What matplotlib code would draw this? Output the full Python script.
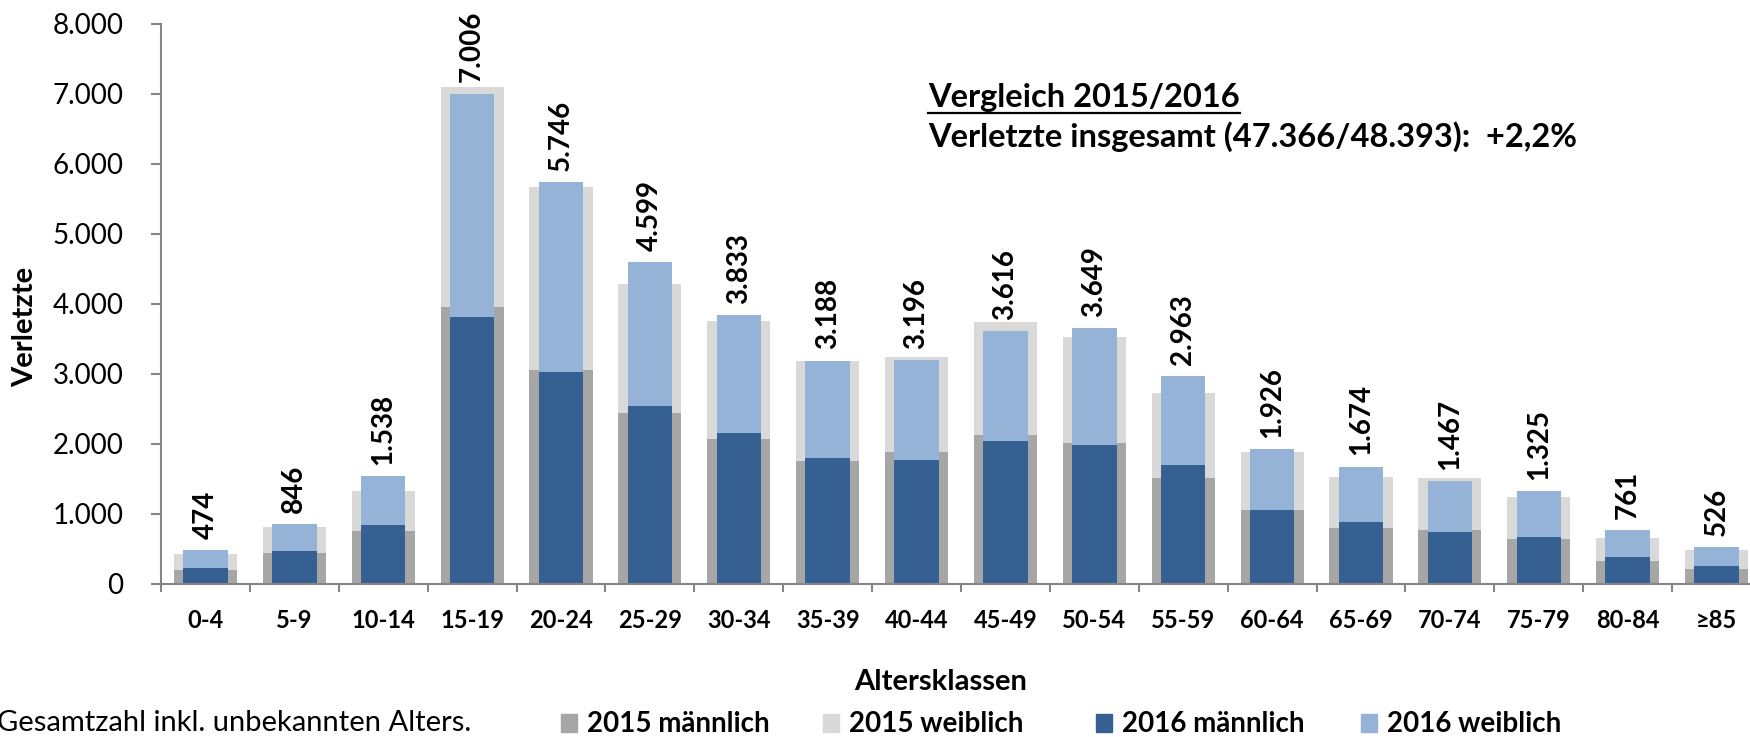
import matplotlib.pyplot as plt
import numpy as np
from matplotlib.patches import Rectangle

plt.rcParams['font.family'] = ['Lato', 'DejaVu Sans']

# Altersklassen
klassen = ["0-4", "5-9", "10-14", "15-19", "20-24", "25-29", "30-34", "35-39", "40-44",
           "45-49", "50-54", "55-59", "60-64", "65-69", "70-74", "75-79", "80-84", "≥85"]

m2015 = np.array([191, 443, 755, 3953, 3051, 2433, 2067, 1750, 1875,
                  2121, 2007, 1509, 1055, 793, 765, 634, 323, 208])
ges2015 = np.array([421, 815, 1329, 7097, 5670, 4281, 3756, 3182, 3242,
                    3745, 3532, 2723, 1881, 1520, 1509, 1236, 651, 476])
w2015 = ges2015 - m2015

# 2016
m2016 = np.array([230, 465, 836, 3811, 3024, 2542, 2160, 1799, 1766,
                  2045, 1979, 1695, 1050, 880, 744, 667, 377, 246])
ges2016 = np.array([474, 846, 1538, 7006, 5746, 4599, 3833, 3188, 3196,
                    3616, 3649, 2963, 1926, 1674, 1467, 1325, 761, 526])
w2016 = ges2016 - m2016

serien = ["2015 männlich", "2015 weiblich", "2016 männlich", "2016 weiblich"]
farben = ["#A6A6A6", "#D9D9D9", "#376092", "#95B3D7"]

def punkt(v):
    return f"{v:,}".replace(",", ".")

W, H = 1750, 737
fig = plt.figure(figsize=(W / 100, H / 100), dpi=100)
ax = fig.add_axes([161 / W, 153.4 / H, 1600 / W, 559.6 / H])

x = np.arange(len(klassen))
ax.bar(x, m2015, width=0.71, color=farben[0])
ax.bar(x, w2015, width=0.71, bottom=m2015, color=farben[1])
ax.bar(x, m2016, width=0.5, color=farben[2])
ax.bar(x, w2016, width=0.5, bottom=m2016, color=farben[3])

# Summen 2016 über den Balken
for xi, v in zip(x, ges2016):
    ax.annotate(punkt(v), (xi, v), xytext=(0, 8), textcoords="offset points",
                rotation=90, ha="center", va="bottom", fontsize=20, fontweight="bold")

ax.set_xlim(-0.5, len(klassen) - 0.5)
ax.set_ylim(0, 8000)
ax.set_yticks(np.arange(0, 8001, 1000))
ax.set_yticklabels([punkt(v) for v in range(0, 8001, 1000)], fontsize=20)
ax.set_xticks(x)
ax.set_xticklabels(klassen, fontsize=17, fontweight="bold")
ax.set_xticks(np.arange(-0.5, len(klassen)), minor=True)
ax.tick_params(axis="x", which="major", length=0, pad=18)
ax.tick_params(axis="x", which="minor", length=6, color="#868686", width=1.5)
ax.tick_params(axis="y", length=7.2, color="#868686", width=1.5, pad=20)

for s in ["top", "right"]:
    ax.spines[s].set_visible(False)
for s in ["left", "bottom"]:
    ax.spines[s].set_color("#868686")
    ax.spines[s].set_linewidth(1.5)

fig.text(25.6 / W, 0.557, "Verletzte", rotation=90, ha="center", va="center",
         fontsize=21, fontweight="bold")
fig.text(941 / W, (H - 682) / H, "Altersklassen", ha="center", va="center",
         fontsize=21, fontweight="bold")

# Kasten oben rechts
t1 = fig.text(928 / W, (H - 107) / H, "Vergleich 2015/2016", ha="left", va="baseline",
              fontsize=23.5, fontweight="bold")
fig.text(928 / W, (H - 147) / H, "Verletzte insgesamt (47.366/48.393):  +2,2%",
         ha="left", va="baseline", fontsize=23.5, fontweight="bold")
fig.canvas.draw()
bb = t1.get_window_extent().transformed(fig.transFigure.inverted())
fig.add_artist(plt.Line2D([bb.x0, bb.x1], [(H - 112.5) / H] * 2, color="black", lw=1.6))

fig.text(-3 / W, (H - 731) / H, "Gesamtzahl inkl. unbekannten Alters.", ha="left",
         va="baseline", fontsize=21)

# Legende
for xs, name, c in zip([561, 823, 1096, 1361], serien, farben):
    fig.add_artist(Rectangle((xs / W, (H - 732) / H), 16 / W, 18 / H,
                             transform=fig.transFigure, color=c))
    fig.text((xs + 26) / W, (H - 732) / H, name, ha="left", va="baseline",
             fontsize=20, fontweight="bold")

fig.savefig("out.png", dpi=100)
